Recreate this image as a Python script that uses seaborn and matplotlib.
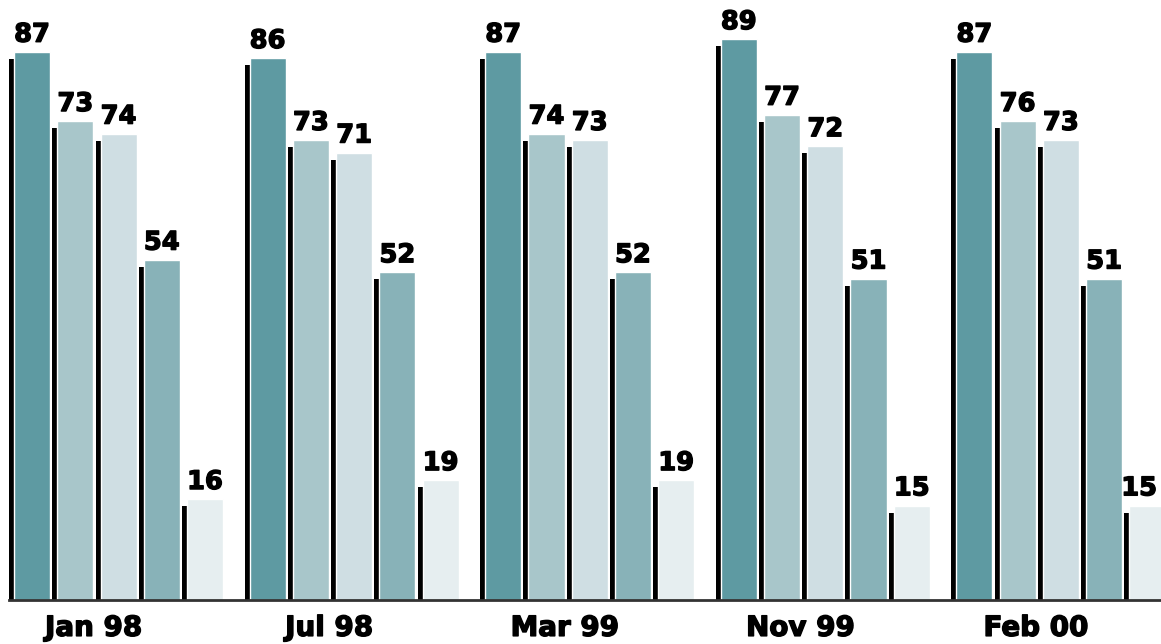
import matplotlib
matplotlib.use("Agg")
import matplotlib.pyplot as plt
import matplotlib.transforms as mtransforms
import matplotlib.patheffects as pe
from matplotlib.patches import Rectangle
import seaborn as sns
import pandas as pd

categories = ["Jan 98", "Jul 98", "Mar 99", "Nov 99", "Feb 00"]
series_names = ["Series 1", "Series 2", "Series 3", "Series 4", "Series 5"]
# bar heights as drawn
s1 = [87, 86, 87, 89, 87]
s2 = [76, 73, 74, 77, 76]
s3 = [74, 71, 73, 72, 73]
s4 = [54, 52, 52, 51, 51]
s5 = [16, 19, 19, 15, 15]
# value labels as printed
l1 = ["87", "86", "87", "89", "87"]
l2 = ["73", "73", "74", "77", "76"]
l3 = ["74", "71", "73", "72", "73"]
l4 = ["54", "52", "52", "51", "51"]
l5 = ["16", "19", "19", "15", "15"]
colors = ["#5e9aa2", "#a8c6ca", "#cfdee3", "#88b2b8", "#e6eef0"]

series_values = [s1, s2, s3, s4, s5]
series_labels = [l1, l2, l3, l4, l5]
rows = []
for name, vals in zip(series_names, series_values):
    for cat, v in zip(categories, vals):
        rows.append({"category": cat, "series": name, "value": v})
df = pd.DataFrame(rows)

sns.set_style("white")
plt.rcParams["font.family"] = ["DejaVu Sans"]

W, H, DPI = 1161, 644, 100
fig = plt.figure(figsize=(W / DPI, H / DPI), dpi=DPI)
ax = fig.add_axes([9 / W, 44 / H, 1152 / W, 600 / H])

sns.barplot(data=df, x="category", y="value", hue="series", order=categories,
            hue_order=series_names, palette=colors, width=0.9175, gap=0.166,
            saturation=1, legend=False, ax=ax, zorder=2)

ax.set_xlim(-0.465, 4.425)
ax.set_ylim(0, 95.24)

# shadows offset left and down
offset = mtransforms.ScaledTranslation(-5 / DPI, -7 / DPI, fig.dpi_scale_trans)
for p in list(ax.patches):
    sh = Rectangle(p.get_xy(), p.get_width(), p.get_height(), facecolor="black",
                   edgecolor="none", transform=ax.transData + offset, zorder=1)
    ax.add_patch(sh)

heavy = [pe.withStroke(linewidth=1.0, foreground="black")]
all_texts = []
for cont, labs in zip(ax.containers, series_labels):
    txts = ax.bar_label(cont, labels=labs, padding=3, fontsize=18.5,
                        fontweight="bold", color="black")
    for t in txts:
        t.set_path_effects(heavy)
    all_texts.append(txts)

# keep the last label inside the figure (right-aligned near the edge)
last = all_texts[-1][-1]
x_edge = ax.transData.inverted().transform((W - 4, 0))[0]
last.xy = (x_edge, last.xy[1])
last.set_ha("right")

ax.set_yticks([])
ax.set_xticks([i - 0.106 for i in range(len(categories))], categories)
ax.tick_params(axis="x", length=0, pad=10, labelsize=20, labelcolor="black")
for lbl in ax.get_xticklabels():
    lbl.set_fontweight("bold")
    lbl.set_path_effects(heavy)
ax.set_xlabel("")
ax.set_ylabel("")
for s in ["left", "top", "right"]:
    ax.spines[s].set_visible(False)
ax.spines["bottom"].set_color("#333333")
ax.spines["bottom"].set_linewidth(2)
ax.spines["bottom"].set_zorder(3)

fig.savefig("out.png", dpi=DPI)
